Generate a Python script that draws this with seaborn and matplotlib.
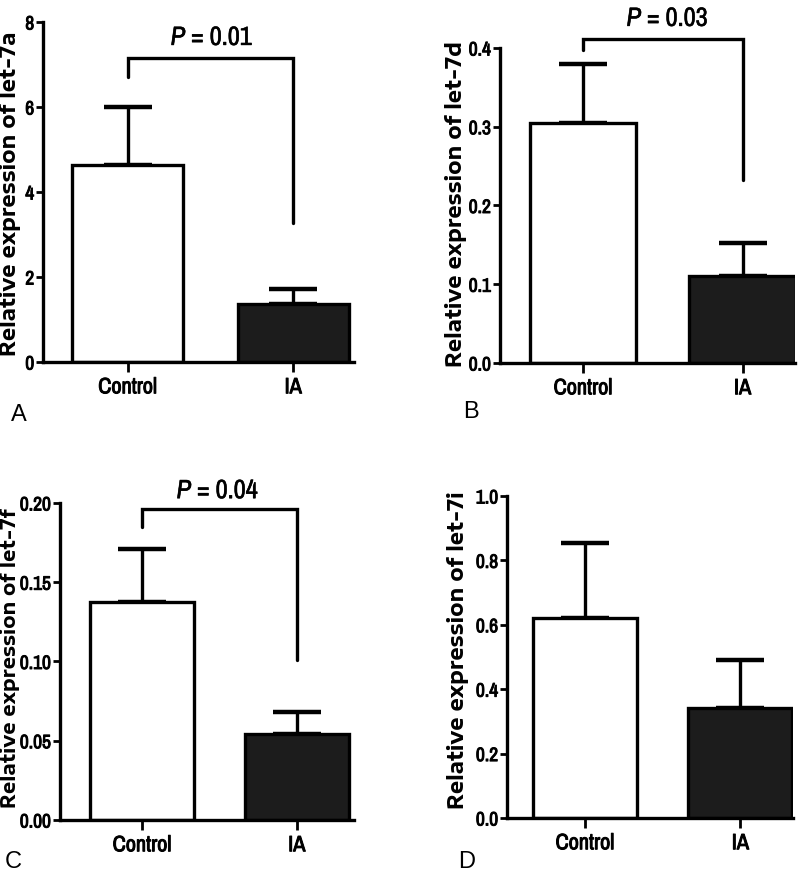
import numpy as np
import pandas as pd
from matplotlib import pyplot as plt
from matplotlib import patheffects as pe
import seaborn as sns

groups = ["Control", "IA"]

let7a_mean = [4.64, 1.36]
let7a_sem = [1.36, 0.36]
let7d_mean = [0.305, 0.110]
let7d_sem = [0.075, 0.042]
let7f_mean = [0.1375, 0.054]
let7f_sem = [0.0335, 0.014]
let7i_mean = [0.62, 0.342]
let7i_sem = [0.233, 0.148]

# bracket: top, left leg end, right leg end
let7a_bracket = [7.15, 6.70, 3.27]
let7d_bracket = [0.411, 0.397, 0.232]
let7f_bracket = [0.196, 0.185, 0.101]
p_labels = ["0.01", "0.03", "0.04"]

sns.set_style("ticks")
plt.rcParams["font.family"] = ["Archivo Narrow", "Liberation Sans", "DejaVu Sans"]
plt.rcParams["mathtext.fontset"] = "custom"
plt.rcParams["mathtext.it"] = "Archivo Narrow:italic"
plt.rcParams["mathtext.rm"] = "Archivo Narrow"
for k in ["text.color", "axes.edgecolor", "xtick.color", "ytick.color", "axes.labelcolor"]:
    plt.rcParams[k] = "black"

thick = [pe.withStroke(linewidth=0.7, foreground="black")]

fig = plt.figure(figsize=(8, 8.77), dpi=100)

panels = [
    dict(pos=[0.054, 0.5872, 0.389, 0.3877], mean=let7a_mean, sem=let7a_sem, ticks=[0, 2, 4, 6, 8],
         fmt="{:.0f}", xlim=(-0.51, 1.37), name="let-7a", bracket=let7a_bracket, p=p_labels[0],
         p_xy=(0.51, 7.46), ylab=(10, 194), ysize=15, letter="A", let_xy=(11, 415)),
    dict(pos=[0.625, 0.5861, 0.369, 0.3592], mean=let7d_mean, sem=let7d_sem, ticks=[0, 0.1, 0.2, 0.3, 0.4],
         fmt="{:.1f}", xlim=(-0.52, 1.33), name="let-7d", bracket=let7d_bracket, p=p_labels[1],
         p_xy=(0.53, 0.428), ylab=(456, 204), ysize=15, letter="B", let_xy=(463, 412)),
    dict(pos=[0.075, 0.0650, 0.3675, 0.3615], mean=let7f_mean, sem=let7f_sem, ticks=[0, 0.05, 0.10, 0.15, 0.20],
         fmt="{:.2f}", xlim=(-0.53, 1.37), name="let-7f", bracket=let7f_bracket, p=p_labels[2],
         p_xy=(0.49, 0.203), ylab=(10, 658), ysize=14, letter="C", let_xy=(5, 862)),
    dict(pos=[0.634, 0.0673, 0.3575, 0.3672], mean=let7i_mean, sem=let7i_sem, ticks=[0, 0.2, 0.4, 0.6, 0.8, 1.0],
         fmt="{:.1f}", xlim=(-0.50, 1.34), name="let-7i", bracket=None, p=None,
         p_xy=None, ylab=(458, 650), ysize=15, letter="D", let_xy=(458, 862)),
]

W, H = 800, 877

for pn in panels:
    ax = fig.add_axes(pn["pos"])
    df = pd.DataFrame({"group": groups, "value": pn["mean"]})
    ax.errorbar(x=[0, 1], y=pn["mean"], yerr=[[0, 0], pn["sem"]], fmt="none",
                ecolor="black", elinewidth=2.4, capsize=17, capthick=3.2, zorder=1)
    sns.barplot(data=df, x="group", y="value", hue="group", palette=["white", "#1c1c1c"],
                edgecolor="black", linewidth=2.4, width=0.67, legend=False, ax=ax, zorder=2)
    ax.set_xlim(pn["xlim"])
    ax.set_ylim(pn["ticks"][0], pn["ticks"][-1])
    ax.set_yticks(pn["ticks"])
    ax.set_yticklabels([pn["fmt"].format(t) for t in pn["ticks"]])
    ax.set_xlabel("")
    ax.set_ylabel("")
    sns.despine(ax=ax)
    for s in ["left", "bottom"]:
        ax.spines[s].set_linewidth(2.4)
    ax.tick_params(axis="y", direction="out", length=5, width=2, labelsize=14, pad=1.5)
    ax.tick_params(axis="x", direction="out", length=7, width=2, labelsize=16, pad=4)
    for lab in ax.get_xticklabels() + ax.get_yticklabels():
        lab.set_path_effects(thick)

    if pn["bracket"] is not None:
        top, lo_l, lo_r = pn["bracket"]
        ax.plot([0, 0, 1, 1], [lo_l, top, top, lo_r], color="black", lw=2.4,
                solid_joinstyle="miter", clip_on=False)
        ax.text(pn["p_xy"][0], pn["p_xy"][1], "$\\it{P}$ = " + pn["p"], ha="center", va="baseline",
                fontsize=19, clip_on=False, path_effects=[pe.withStroke(linewidth=0.4, foreground="black")])

    fig.text(pn["ylab"][0] / W, 1 - pn["ylab"][1] / H, "Relative expression of " + pn["name"],
             rotation=90, ha="center", va="center", fontsize=pn["ysize"], fontweight="bold",
             family="Encode Sans Expanded")
    fig.text(pn["let_xy"][0] / W, 1 - pn["let_xy"][1] / H, pn["letter"], ha="left", va="center",
             fontsize=17, family="Liberation Sans")

fig.savefig("out.png", dpi=100)
